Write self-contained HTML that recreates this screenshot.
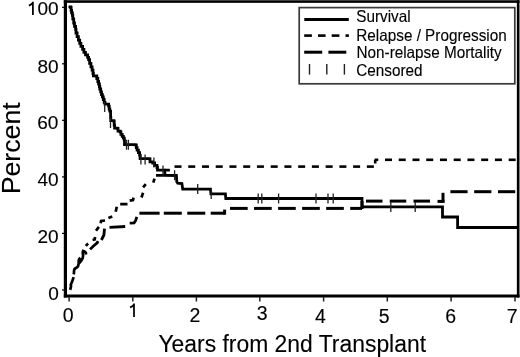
<!DOCTYPE html>
<html><head><meta charset="utf-8"><style>
html,body{margin:0;padding:0;background:#fff;}
body{width:520px;height:357px;overflow:hidden;}
svg{display:block;filter:grayscale(100%);}
text{font-family:"Liberation Sans",sans-serif;fill:#000;stroke:#000;stroke-width:0.12px;}
</style></head><body>
<svg width="520" height="357" viewBox="0 0 520 357">
<rect x="0" y="0" width="520" height="357" fill="#fff"/>
<g fill="#000">
<rect x="63.8" y="0.25" width="455.7" height="2.6"/>
<rect x="63.8" y="0.25" width="3.2" height="297.25"/>
<rect x="63.8" y="294.5" width="455.7" height="3"/>
<rect x="516.85" y="0.25" width="2.65" height="297.25"/>
</g>
<g stroke="#000" stroke-width="1.2">
<line x1="62" y1="7.3" x2="65" y2="7.3"/>
<line x1="62" y1="63.8" x2="65" y2="63.8"/>
<line x1="62" y1="120.3" x2="65" y2="120.3"/>
<line x1="62" y1="176.9" x2="65" y2="176.9"/>
<line x1="62" y1="233.4" x2="65" y2="233.4"/>
<line x1="62" y1="290" x2="65" y2="290"/>
</g>
<g stroke="#222" stroke-width="1.5">
<line x1="69.1" y1="297" x2="69.1" y2="301.5"/>
<line x1="132.8" y1="297" x2="132.8" y2="301.5"/>
<line x1="196.4" y1="297" x2="196.4" y2="301.5"/>
<line x1="259.8" y1="297" x2="259.8" y2="301.5"/>
<line x1="323.6" y1="297" x2="323.6" y2="301.5"/>
<line x1="387.3" y1="297" x2="387.3" y2="301.5"/>
<line x1="451.1" y1="297" x2="451.1" y2="301.5"/>
<line x1="515" y1="297" x2="515" y2="301.5"/>
</g>
<g font-size="19" text-anchor="end">
<text x="58.7" y="15.2">00</text>
<text x="58.7" y="72.6">80</text>
<text x="58.4" y="129.3">60</text>
<text x="58.6" y="186">40</text>
<text x="58.6" y="242.9">20</text>
<text x="58.9" y="300">0</text>
</g>
<!-- custom "1" glyphs (Arial style, no base) -->
<g fill="none" stroke="#000" stroke-width="1.75" stroke-linecap="butt">
<path d="M32.9,1.7 V15.1 M33.1,2.4 C31.9,4.2 30.6,4.9 28.9,5.6"/>
<path d="M134,303.5 V317 M134.2,304.2 C133,306 131.8,306.7 130.1,307.4"/>
</g>
<g font-size="19.5" text-anchor="middle">
<text x="68.1" y="321.5">0</text>
<text x="195" y="321.5">2</text>
<text x="262.3" y="320">3</text>
<text x="320.5" y="322.7">4</text>
<text x="384.3" y="322.7">5</text>
<text x="450.6" y="323">6</text>
<text x="512.3" y="323">7</text>
</g>
<text transform="translate(158.4,351.6) scale(1,1.07)" font-size="22.9">Years from 2nd Transplant</text>
<text transform="translate(19.5,194.3) rotate(-90)" font-size="26.7">Percent</text>

<rect x="299.2" y="7.6" width="215.6" height="76.2" fill="#fff" stroke="#3a3a3a" stroke-width="1.7"/>
<line x1="304.3" y1="19.4" x2="348.8" y2="19.4" stroke="#000" stroke-width="3"/>
<g stroke="#000" stroke-width="2.6">
<line x1="304.2" y1="35.6" x2="311.9" y2="35.6"/>
<line x1="318" y1="35.6" x2="325.6" y2="35.6"/>
<line x1="331.7" y1="35.6" x2="339.4" y2="35.6"/>
<line x1="345.5" y1="35.6" x2="348.9" y2="35.6"/>
</g>
<g stroke="#000" stroke-width="3">
<line x1="304.2" y1="52.2" x2="322.2" y2="52.2"/>
<line x1="328.4" y1="52.2" x2="346.3" y2="52.2"/>
</g>
<g stroke="#222" stroke-width="1.4">
<line x1="309.5" y1="64" x2="309.5" y2="74.6"/>
<line x1="326.8" y1="64" x2="326.8" y2="74.6"/>
<line x1="344.4" y1="64" x2="344.4" y2="74.6"/>
</g>
<g font-size="15.3">
<text transform="translate(356.3,22.2) scale(1,1.05)">Survival</text>
<text transform="translate(356.3,40.5) scale(1,1.05)">Relapse / Progression</text>
<text transform="translate(356.5,58.4) scale(1,1.05)">Non-relapse Mortality</text>
<text transform="translate(356.2,76) scale(1,1.05)">Censored</text>
</g>

<g fill="none" stroke="#000" stroke-linejoin="miter">
<path stroke-width="2.8" d="M68.5,6.8 H70.7 V7.5 H71.1 V10.4 H71.6 V12.9 H72.4 V15.4 H72.8 V18.8 H73.7 V20.1 L73.7,23.0 H74.5 V26.4 H75.6 V29.3 H76.0 V33.0 H77.1 V36.7 H78.4 V40.1 H79.7 V43.4 H80.9 V46.4 H82.6 V49.3 H83.9 V52.3 H85.5 V54.8 H87.6 V57.3 H88.6 V59.6 H89.6 V63.4 H90.9 V66.8 H92.1 V70.1 H93.0 V73.5 H93.4 V75.8 H95.9 V76.0 H96.8 V78.5 H97.8 V81.5 H98.6 V84.0 H99.4 V86.5 H99.8 V89.0 H100.7 V91.8 H101.5 V94.6 H102.4 V96.8 H103.3 V99.5 H104.2 V102.3 H105.0 V104.1 L108.1,104.1 H108.6 V106.2 H109.2 V109.0 H109.8 V111.2 H110.6 V114.0 L110.6,117.5 H110.8 V120.7 H113.8 V121.1 H114.2 V125.1 H114.6 V128.2 H117.1 V128.4 H118.0 V131.2 H120.1 V131.8 H120.9 V134.3 H122.2 V136.4 H123.4 V138.1 H124.3 V140.2 H124.5 V144.6 H135.0 V144.9 H136.3 V147.6 H137.1 V150.1 H138.4 V152.6 H139.6 V155.2 H140.1 V158.7 H149.3 V158.8 H150.0 V161.9 H152.8 V163.0 H154.6 V165.4 H157.0 V167.5 H157.5 V170.1 L164.5,170.1 L165.2,175.4 L176.4,175.5 L176.8,181.8 L177.7,183.2 L181.9,183.5 L182.7,189.2 L210.5,189.2 L210.9,193.9 L225.4,193.9 L225.8,198.5 L362.0,198.5 L362.0,206.8 L442.5,206.8 L442.5,217.0 L457.6,217.0 L457.6,227.5 L517.0,227.5"/>
<path stroke-width="2.7" d="M70.2,289.9 L71,286.4 L70.8,284.7 L71.5,283 L72.3,280.9 L73.1,278.8 L73.6,277.2 M73.6,274.4 L74,272.9 L74,271.1 L74.4,269.3 L75.5,268.2 L76.9,267.5 L78,266.3 L78.7,263.5 L78.7,260.4 L79.4,258.8 L80.4,257.8 M78.7,263.5 L80.2,262 L81.7,260.1 L82.7,258.1 L83.1,255.4 L82.7,252.7 L83.1,251 L84.4,251.4 L85.8,252.7 L86.1,254.5"/>
<path stroke-width="2.7" d="M85.8,245.9 L88.1,243.5 M92.6,240 L94.7,239.5 L95.1,237 M96,230.7 L98.9,226.9 M100.6,223.3 L101.1,221 L105,220.5 M108.4,218 L112.3,216.5 M115.7,211.8 L116.8,206.8 M120.2,204.1 L127.5,204.1 M129.7,200.6 L133,200 L133.6,197.6 M141.5,197.5 L142.3,195 L143.1,192.8 M143.1,187.3 L145.8,184.1 M153.3,182.6 L154.5,178.7 M156,175.3 L164,175.3 M164.3,170.2 L169.9,170.2"/>
<path stroke-width="2.8" d="M90.1,249.4 L93.2,246.2 L97.2,242.9 L98,241.2 M101.4,240 L103.9,235 L104.5,228.6 M109.5,227.3 L125.2,226.5 M129.7,223.1 L134.1,222.8 L135.7,220.5 L136.8,216.8"/>
</g>
<g stroke="#000" stroke-width="2.6">
<line x1="174.50" y1="166.6" x2="181.50" y2="166.6"/>
<line x1="188.24" y1="166.6" x2="195.24" y2="166.6"/>
<line x1="201.98" y1="166.6" x2="208.98" y2="166.6"/>
<line x1="215.72" y1="166.6" x2="222.72" y2="166.6"/>
<line x1="229.46" y1="166.6" x2="236.46" y2="166.6"/>
<line x1="243.20" y1="166.6" x2="250.20" y2="166.6"/>
<line x1="256.94" y1="166.6" x2="263.94" y2="166.6"/>
<line x1="270.68" y1="166.6" x2="277.68" y2="166.6"/>
<line x1="284.42" y1="166.6" x2="291.42" y2="166.6"/>
<line x1="298.16" y1="166.6" x2="305.16" y2="166.6"/>
<line x1="311.90" y1="166.6" x2="318.90" y2="166.6"/>
<line x1="325.64" y1="166.6" x2="332.64" y2="166.6"/>
<line x1="339.38" y1="166.6" x2="346.38" y2="166.6"/>
<line x1="353.12" y1="166.6" x2="360.12" y2="166.6"/>
<line x1="366.86" y1="166.6" x2="373.86" y2="166.6"/>
<line x1="374.60" y1="159.8" x2="378.26" y2="159.8"/>
<line x1="385.00" y1="159.8" x2="392.00" y2="159.8"/>
<line x1="398.74" y1="159.8" x2="405.74" y2="159.8"/>
<line x1="412.48" y1="159.8" x2="419.48" y2="159.8"/>
<line x1="426.22" y1="159.8" x2="433.22" y2="159.8"/>
<line x1="439.96" y1="159.8" x2="446.96" y2="159.8"/>
<line x1="453.70" y1="159.8" x2="460.70" y2="159.8"/>
<line x1="467.44" y1="159.8" x2="474.44" y2="159.8"/>
<line x1="481.18" y1="159.8" x2="488.18" y2="159.8"/>
<line x1="494.92" y1="159.8" x2="501.92" y2="159.8"/>
<line x1="508.66" y1="159.8" x2="515.66" y2="159.8"/>
<line x1="375.2" y1="159.8" x2="375.2" y2="163.5"/>
</g>
<g stroke="#000" stroke-width="3">
<line x1="139.4" y1="213.2" x2="159.6" y2="213.2"/>
<line x1="163.80" y1="213.2" x2="181.80" y2="213.2"/>
<line x1="187.25" y1="213.2" x2="205.25" y2="213.2"/>
<line x1="210.70" y1="213.2" x2="225.50" y2="213.2"/>
<line x1="224.6" y1="214.5" x2="224.6" y2="209.6"/>
<line x1="230.00" y1="208.4" x2="247.70" y2="208.4"/>
<line x1="254.04" y1="208.4" x2="271.74" y2="208.4"/>
<line x1="278.08" y1="208.4" x2="295.78" y2="208.4"/>
<line x1="302.12" y1="208.4" x2="319.82" y2="208.4"/>
<line x1="326.16" y1="208.4" x2="343.86" y2="208.4"/>
<line x1="350.20" y1="208.4" x2="362.00" y2="208.4"/>
<line x1="362" y1="209" x2="362" y2="201"/>
<line x1="366.00" y1="201.1" x2="382.50" y2="201.1"/>
<line x1="389.75" y1="201.1" x2="406.25" y2="201.1"/>
<line x1="413.50" y1="201.1" x2="430.00" y2="201.1"/>
<line x1="437.5" y1="201.4" x2="444.5" y2="201.4"/>
<line x1="443" y1="202.5" x2="443" y2="192.8"/>
<line x1="450.40" y1="191.7" x2="467.60" y2="191.7"/>
<line x1="474.20" y1="191.7" x2="491.40" y2="191.7"/>
<line x1="498.00" y1="191.7" x2="515.20" y2="191.7"/>
</g>
<path fill="none" stroke="#222" stroke-width="1.3" d="M104.7,102 V112 M110.5,118 V128 M126.5,139.7 V149.7 M128.4,139.7 V149.7 M140.9,154.5 V164.5 M145.1,154.5 V164.5 M153.9,157.5 V167.5 M163,165.5 V175.5 M174.6,170.3 V180.3 M197.7,184 V194 M211.2,188.9 V198.9 M258.2,193.5 V203.5 M261.8,193.5 V203.5 M278.6,193.5 V203.5 M316,193.5 V203.5 M328,193.5 V203.5 M333.2,193.5 V203.5 M390.8,201.9 V211.9 M415.2,201.9 V211.9"/>
</svg>
</body></html>
